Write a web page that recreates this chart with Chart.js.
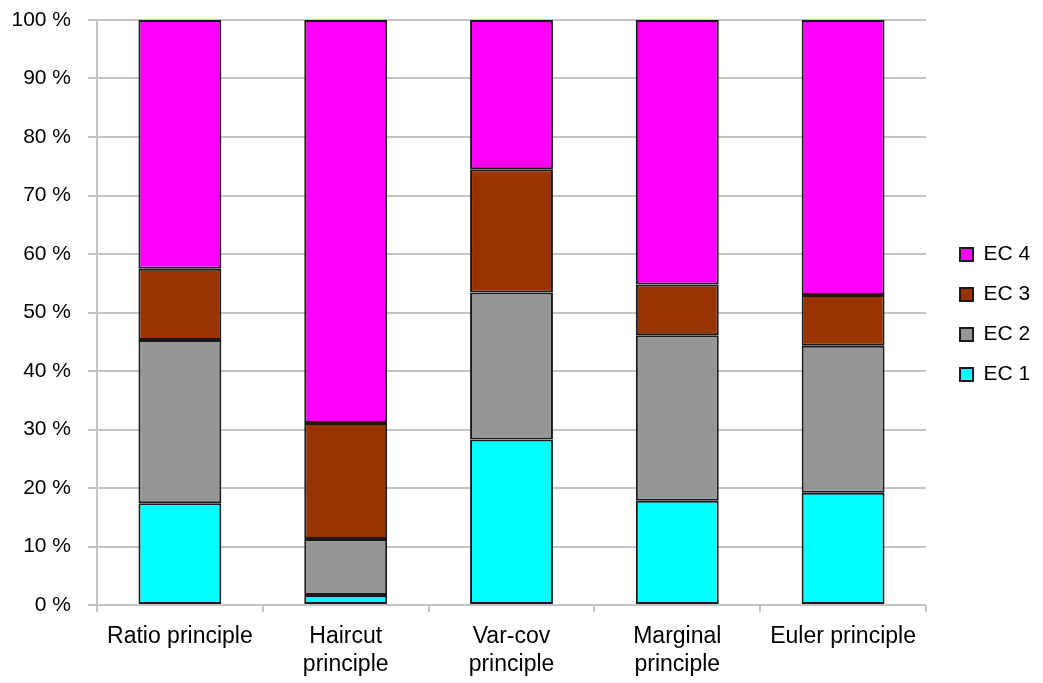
<!DOCTYPE html>
<html>
<head>
<meta charset="utf-8">
<script src="https://cdn.jsdelivr.net/npm/chart.js@4/dist/chart.umd.min.js"></script>
<style>
  html, body { margin: 0; padding: 0; background: #ffffff; }
  #wrap { width: 1043px; height: 683px; }
</style>
</head>
<body>
<div id="wrap"><canvas id="c" width="1043" height="683"></canvas></div>
<script>
// Allocation principles compared along the horizontal axis
const categories = [
  "Ratio principle",
  ["Haircut", "principle"],
  ["Var-cov", "principle"],
  ["Marginal", "principle"],
  "Euler principle"
];

// Share of each EC (percent of the total for every principle)
const ec1 = [17.4, 1.7, 28.3, 17.8, 19.2];
const ec2 = [27.9, 9.6, 25.1, 28.3, 25.1];
const ec3 = [12.2, 19.8, 21.1, 8.7, 8.7];
const ec4 = [42.5, 68.9, 25.5, 45.2, 47.0];

const seriesNames = ["EC 1", "EC 2", "EC 3", "EC 4"];
const seriesValues = [ec1, ec2, ec3, ec4];
const seriesColors = ["#00ffff", "#969696", "#993300", "#ff00ff"];

const yTickValues = [0, 10, 20, 30, 40, 50, 60, 70, 80, 90, 100];

const FONT = "'Liberation Sans', Arial, Helvetica, sans-serif";
const GRID = "#c4c4c4";

// Pin the legend column width, then place it beside the plot border
const legendPlacement = {
  id: "legendPlacement",
  beforeLayout(chart) {
    const lg = chart.legend;
    if (lg && !lg._fixedFit) {
      const fit = lg.fit.bind(lg);
      lg.fit = function () { fit(); this.width = 117; };
      lg._fixedFit = true;
    }
  },
  afterLayout(chart) {
    const lg = chart.legend;
    const area = chart.chartArea;
    if (lg) {
      lg.left += 15; lg.right += 15;
      lg.top = area.top + 4; lg.bottom = area.bottom;
    }
  }
};

new Chart(document.getElementById("c"), {
  type: "bar",
  data: {
    labels: categories,
    datasets: seriesNames.map((name, i) => ({
      label: name,
      data: seriesValues[i],
      backgroundColor: seriesColors[i],
      borderColor: "#1a1a1a",
      borderWidth: 2,
      borderSkipped: false,
      categoryPercentage: 1.0,
      barPercentage: 0.5
    }))
  },
  options: {
    responsive: false,
    animation: false,
    layout: { padding: { top: 20, right: 0, bottom: 0, left: 0 } },
    plugins: {
      tooltip: { enabled: false },
      legend: {
        position: "right",
        reverse: true,
        labels: {
          boxWidth: 13,
          boxHeight: 13,
          padding: 19,
          color: "#000000",
          font: { family: FONT, size: 21 }
        }
      }
    },
    scales: {
      x: {
        stacked: true,
        offset: true,
        afterFit(scale) { scale.height = 78; },
        grid: {
          offset: true,
          drawOnChartArea: true,
          color: (ctx) => (ctx.index === 0 || ctx.index === categories.length) ? GRID : "rgba(0,0,0,0)",
          tickColor: GRID,
          lineWidth: 2,
          tickLength: 7
        },
        border: { display: false },
        ticks: {
          color: "#000000",
          padding: 11,
          maxRotation: 0,
          autoSkip: false,
          font: { family: FONT, size: 23, lineHeight: 1.22 }
        }
      },
      y: {
        stacked: true,
        min: 0,
        max: 100,
        afterFit(scale) {
          scale.width = 97;
          scale.paddingTop = 0;
          scale.paddingBottom = 0;
        },
        afterBuildTicks(scale) { scale.ticks = yTickValues.map(v => ({ value: v })); },
        grid: {
          color: GRID,
          tickColor: GRID,
          lineWidth: 2,
          tickLength: 9
        },
        border: { display: true, color: GRID, width: 2 },
        ticks: {
          color: "#000000",
          padding: 17,
          font: { family: FONT, size: 21 },
          callback: (v) => v + " %"
        }
      }
    }
  },
  plugins: [legendPlacement]
});
</script>
</body>
</html>
